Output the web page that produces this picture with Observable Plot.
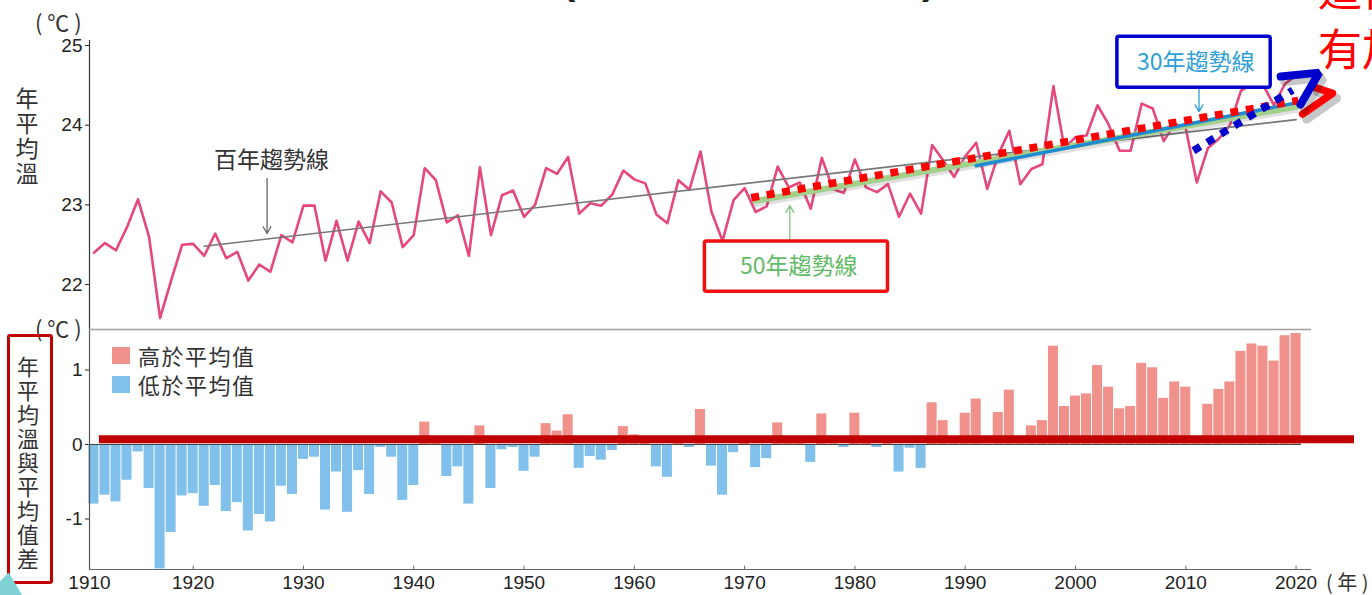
<!DOCTYPE html>
<html><head><meta charset="utf-8">
<script src="https://cdn.jsdelivr.net/npm/d3@7"></script>
<script src="https://cdn.jsdelivr.net/npm/@observablehq/plot@0.6"></script>
<style>
body{margin:0;background:#fff;}
#wrap{position:relative;width:1372px;height:595px;overflow:hidden;background:#fff;font-family:"Noto Sans CJK TC","Noto Sans",sans-serif;color:#333;}
.abs{position:absolute;white-space:nowrap;}
.vert{position:absolute;writing-mode:vertical-rl;text-orientation:upright;white-space:nowrap;color:#333;}
#topPlot{position:absolute;left:0;top:0;}
#bottomPlot{position:absolute;left:0;top:315px;}
</style></head><body><div id="wrap">
<div id="topPlot"></div>
<div id="bottomPlot"></div>
<div class="abs" style="left:562px;top:-42px;font:bold 40px 'Liberation Sans',Arial;color:#222;">(</div>
<div class="abs" style="left:922px;top:-42px;font:bold 40px 'Liberation Sans',Arial;color:#222;">)</div>
<div class="abs" style="left:1318px;top:-43px;font-size:44px;line-height:60px;color:#ff0000;">這個<br>有加</div>
<div class="abs" style="left:35px;top:8px;font-size:22px;line-height:26px;color:#333;">( ℃ )</div>
<div class="vert" style="left:15px;top:87px;font-size:23px;line-height:24px;letter-spacing:2px;">年平均溫</div>
<div class="abs" style="left:35px;top:314px;font-size:22px;line-height:26px;color:#333;">( ℃ )</div>
<div class="abs" style="left:7px;top:334px;width:46px;height:250px;box-sizing:border-box;border:3px solid #c00000;border-radius:3px;"></div>
<div class="vert" style="left:16px;top:356px;font-size:22px;line-height:24px;letter-spacing:2px;">年平均溫與平均值差</div>
<div class="abs" style="left:112px;top:347px;width:18px;height:17px;background:#f0928b;"></div>
<div class="abs" style="left:138px;top:340px;font-size:22px;line-height:30px;letter-spacing:1.5px;color:#333;">高於平均值</div>
<div class="abs" style="left:112px;top:376px;width:18px;height:17px;background:#80c0eb;"></div>
<div class="abs" style="left:138px;top:369px;font-size:22px;line-height:30px;letter-spacing:1.5px;color:#333;">低於平均值</div>
<div class="abs" style="left:1326px;top:569px;font-size:20px;line-height:26px;color:#333;">( 年 )</div>
<div class="abs" style="left:0;top:570px;width:24px;height:25px;background:#7fd1d6;clip-path:polygon(0 45%,36% 10%,92% 100%,0 100%);"></div>
</div>
<script>
// ---------- data ----------
const startYear = 1911;
const annualTemp = [
22.40,22.52,22.43,22.72,23.07,22.60,21.58,22.05,22.50,22.51,
22.36,22.64,22.33,22.41,22.05,22.25,22.16,22.62,22.53,22.99,
22.99,22.30,22.80,22.30,22.79,22.52,23.17,23.03,22.47,22.62,
23.46,23.31,22.78,22.87,22.36,23.47,22.62,23.12,23.18,22.85,
23.00,23.46,23.39,23.60,22.89,23.02,22.99,23.13,23.43,23.32,
23.27,22.88,22.77,23.31,23.19,23.67,22.91,22.55,23.06,23.21,
22.91,22.98,23.48,23.22,23.28,22.95,23.59,23.20,23.15,23.57,
23.22,23.16,23.26,22.85,23.14,22.89,23.75,23.56,23.35,23.61,
23.78,23.20,23.63,23.93,23.26,23.45,23.51,24.49,23.71,23.85,
23.87,24.25,24.01,23.68,23.68,24.27,24.21,23.80,24.02,23.96,
23.28,23.71,23.83,24.00,24.43,24.52,24.51,24.25,24.52,24.62];
const anomaly = [
-0.80,-0.68,-0.77,-0.48,-0.10,-0.59,-1.67,-1.18,-0.69,-0.66,
-0.83,-0.55,-0.90,-0.78,-1.16,-0.94,-1.04,-0.56,-0.67,-0.20,
-0.17,-0.88,-0.37,-0.91,-0.35,-0.67,-0.04,-0.17,-0.75,-0.55,
0.30,0.05,-0.43,-0.30,-0.80,0.25,-0.59,-0.07,-0.04,-0.36,
-0.17,0.28,0.18,0.40,-0.32,-0.16,-0.21,-0.08,0.24,0.13,
0.07,-0.30,-0.44,0.10,-0.04,0.47,-0.29,-0.68,-0.11,0.02,
-0.31,-0.19,0.29,0.03,0.08,-0.24,0.41,0.01,-0.04,0.42,
0.03,-0.04,0.06,-0.37,-0.05,-0.32,0.56,0.32,0.10,0.42,
0.61,0.01,0.43,0.73,0.06,0.25,0.32,1.32,0.51,0.65,
0.68,1.06,0.77,0.48,0.51,1.09,1.03,0.62,0.84,0.77,
0.08,0.54,0.74,0.84,1.25,1.35,1.32,1.12,1.46,1.49];

const xDomain = [1910.6, 2021.4];
const xTicks = [1920,1930,1940,1950,1960,1970,1980,1990,2000,2010,2020];
const firstTickLabel = ["1910"];
const tempDomain = [21.423, 25.063];
const tempTicks = [22,23,24,25];
const anomDomain = [-1.678, 1.544];
const anomTicks = [-1,0,1];

// trend lines (year, value endpoints)
const trend100 = [{year:1921, value:22.48},{year:2020, value:24.07}];
const trend50  = [{year:1971, value:23.05},{year:2020, value:24.23}];
const trend30  = [{year:1991, value:23.49},{year:2020, value:24.28}];
// hand-drawn emphasis arrows
const redDotted  = [{year:1970.6, value:23.09},{year:2020.2, value:24.31}];
const redHead    = [{year:2021.6, value:24.48},{year:2023.3, value:24.40},{year:2020.6, value:24.14}];
const blueDotted = [{year:2010.7, value:23.68},{year:2019.7, value:24.44}];
const blueHead   = [{year:2018.6, value:24.61},{year:2022.1, value:24.66},{year:2020.4, value:24.26}];
// label annotations
const labels = [
  {text:"百年趨勢線", year:1927.1, value:23.56, color:"#333333"},
  {text:"50年趨勢線", year:1974.9, value:22.23, color:"#5fbb66"},
  {text:"30年趨勢線", year:2010.9, value:24.79, color:"#2e9fd8"}];
const pointers = [
  {year:1926.7, from:23.33, to:22.64, color:"#666666"},
  {year:1974.1, from:22.49, to:22.99, color:"#80c880"},
  {year:2011.2, from:24.57, to:24.17, color:"#2ea0dc"}];
const boxes = [
  {x1:1966.4, x2:1983.0, y1:22.54, y2:21.91, color:"#f01010"},
  {x1:2003.8, x2:2017.7, y1:25.11, y2:24.47, color:"#0000cc"}];
const redBarLevel = 0.07;
const redBarSpan = [1911.5, 2025.3];

const years = annualTemp.map((_, i) => startYear + i);
const tempData = years.map((year, i) => ({year, value: annualTemp[i]}));
const anomData = years.map((year, i) => ({year, value: anomaly[i]}));

const baseStyle = {background:"transparent", fontFamily:"'Liberation Sans', Arial, sans-serif", fontSize:"19px", color:"#222", overflow:"visible"};
const cjk = "'Noto Sans CJK TC', 'Noto Sans', sans-serif";
const xy = {x:"year", y:"value"};

// ---------- top panel ----------
const topPlot = Plot.plot({
  width:1372, height:330, marginLeft:89, marginRight:61, marginTop:40, marginBottom:0,
  style: baseStyle,
  x:{domain:xDomain, axis:null},
  y:{domain:tempDomain, ticks:tempTicks, tickSize:4, tickPadding:3, label:null, tickFormat:d=>String(d)},
  marks:[
    Plot.ruleX([xDomain[0]], {stroke:"#333", strokeWidth:1.2}),
    Plot.line(tempData, {...xy, stroke:"#e5487d", strokeWidth:2.6}),
    Plot.line(trend100, {...xy, stroke:"#777", strokeWidth:1.6}),
    Plot.line(trend50, {...xy, stroke:"#000", strokeOpacity:0.12, strokeWidth:7, dx:1, dy:2.5}),
    Plot.line(trend50, {...xy, stroke:"#a3d08b", strokeWidth:6}),
    Plot.line(trend30, {...xy, stroke:"#1f8bd0", strokeWidth:3.5}),
    Plot.line(redDotted, {...xy, stroke:"#ff0000", strokeWidth:7.5, strokeDasharray:"8 7.7", strokeLinecap:"butt"}),
    Plot.line(redHead, {...xy, stroke:"#000", strokeOpacity:0.22, strokeWidth:9, dx:4, dy:5, strokeLinecap:"round", strokeLinejoin:"round"}),
    Plot.line(redHead, {...xy, stroke:"#ff0000", strokeWidth:7.5, strokeLinecap:"round", strokeLinejoin:"round"}),
    Plot.line(blueDotted, {...xy, stroke:"#0000cc", strokeWidth:7.5, strokeDasharray:"8 8", strokeLinecap:"butt"}),
    Plot.line(blueHead, {...xy, stroke:"#000", strokeOpacity:0.22, strokeWidth:9, dx:4, dy:5, strokeLinecap:"round", strokeLinejoin:"miter"}),
    Plot.line(blueHead, {...xy, stroke:"#0000cc", strokeWidth:8, strokeLinecap:"round", strokeLinejoin:"miter"}),
    ...pointers.map(p => Plot.arrow([p], {x1:"year", x2:"year", y1:"from", y2:"to", stroke:p.color, strokeWidth:1.3, headLength:9})),
    ...boxes.map(b => Plot.rect([b], {x1:"x1", x2:"x2", y1:"y1", y2:"y2", fill:"white", stroke:b.color, strokeWidth:3.5, rx:2})),
    ...labels.map(l => Plot.text([l], {x:"year", y:"value", text:"text", fill:l.color, fontSize:23, fontFamily:cjk}))
  ]
});
document.getElementById("topPlot").appendChild(topPlot);

// ---------- bottom panel ----------
const bottomPlot = Plot.plot({
  width:1372, height:280, marginLeft:89, marginRight:61, marginTop:14, marginBottom:26,
  style: baseStyle,
  x:{domain:xDomain, ticks:xTicks, tickSize:0, tickPadding:6, label:null, tickFormat:d=>String(d)},
  y:{domain:anomDomain, ticks:anomTicks, tickSize:4, tickPadding:3, label:null, tickFormat:d=>String(d)},
  marks:[
    Plot.rect(anomData.filter(d => d.value >= 0), {x1:d=>d.year-0.5, x2:d=>d.year+0.5, y1:0, y2:"value", fill:"#f0928b", insetLeft:0.5, insetRight:0.5}),
    Plot.rect(anomData.filter(d => d.value < 0), {x1:d=>d.year-0.5, x2:d=>d.year+0.5, y1:0, y2:"value", fill:"#80c0eb", insetLeft:0.5, insetRight:0.5}),
    Plot.ruleY([0], {x1:xDomain[0], x2:2020.5, stroke:"#444", strokeWidth:1}),
    Plot.ruleY([redBarLevel], {x1:redBarSpan[0], x2:redBarSpan[1], stroke:"#c00000", strokeWidth:8}),
    Plot.ruleX([xDomain[0]], {stroke:"#555", strokeWidth:1.2}),
    Plot.ruleY([anomDomain[1]], {stroke:"#a0a0a0", strokeWidth:1.6}),
    Plot.ruleY([anomDomain[0]], {stroke:"#666", strokeWidth:1.2}),
    Plot.ruleX(xTicks, {y1:anomDomain[0], y2:anomDomain[0]+0.045, stroke:"#666"}),
    Plot.text(firstTickLabel, {x:xDomain[0], frameAnchor:"bottom", lineAnchor:"top", dy:6, fontSize:19, fill:"#222"})
  ]
});
document.getElementById("bottomPlot").appendChild(bottomPlot);
</script>
</body></html>
